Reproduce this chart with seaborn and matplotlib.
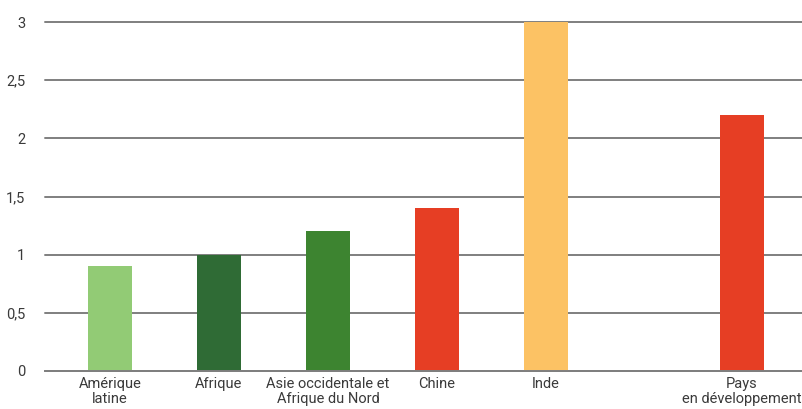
import seaborn as sns
import pandas as pd
import matplotlib.pyplot as plt
from matplotlib.ticker import FuncFormatter

regions = ["Amérique\nlatine", "Afrique", "Asie occidentale et\nAfrique du Nord",
           "Chine", "Inde", "Pays\nen développement"]
values = [0.9, 1.0, 1.2, 1.4, 3.0, 2.2]
colors = ["#92CB75", "#2F6B35", "#3D8430", "#E63E24", "#FCC264", "#E63E24"]
# gap before the last group
slots = [0, 1, 2, 3, 4, 5.8]

df = pd.DataFrame({"region": regions, "value": values, "slot": slots})

sns.set_style("white")
plt.rcParams["font.family"] = ["Roboto", "DejaVu Sans"]

fig = plt.figure(figsize=(8.02, 4.09), dpi=100)
ax = fig.add_axes([45 / 802, 38 / 409, 757 / 802, 349 / 409])

sns.barplot(data=df, x="slot", y="value", hue="region", palette=colors,
            native_scale=True, width=0.4, legend=False, saturation=1,
            linewidth=0, ax=ax)

ax.set_ylim(0, 3)
ax.set_xlim(-0.596, 6.35)
ax.set_yticks([0, 0.5, 1, 1.5, 2, 2.5, 3])
ax.yaxis.set_major_formatter(FuncFormatter(lambda v, p: f"{v:g}".replace(".", ",")))
ax.set_xticks(slots)
ax.set_xticklabels(regions, linespacing=1.1)
ax.tick_params(axis="both", length=0, labelsize=10.5, labelcolor="#3a3a3a")
ax.tick_params(axis="y", pad=14)
ax.tick_params(axis="x", pad=4)
ax.set_xlabel("")
ax.set_ylabel("")

ax.grid(axis="y", color="#7f7f7f", linewidth=1.4, clip_on=False)
ax.set_axisbelow(True)
for s in ["left", "right", "top"]:
    ax.spines[s].set_visible(False)
ax.spines["bottom"].set_color("#7f7f7f")
ax.spines["bottom"].set_linewidth(1.4)

plt.savefig("out.png", dpi=100)
